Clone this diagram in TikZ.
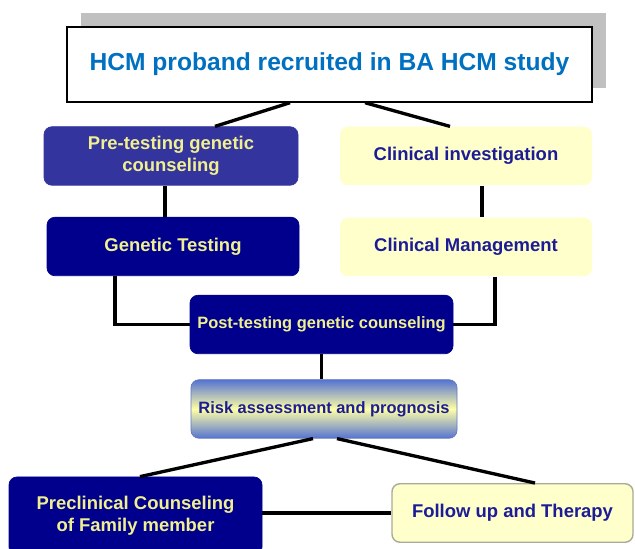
\documentclass[tikz,border=0pt]{standalone}
\usepackage{fontspec}
\setmainfont{Liberation Sans}
\definecolor{titleBlue}{RGB}{0,112,192}
\definecolor{shadowGray}{RGB}{192,192,192}
\definecolor{preBlue}{RGB}{52,52,158}
\definecolor{navyBlue}{RGB}{0,0,140}
\definecolor{paleYellow}{RGB}{255,255,204}
\definecolor{labelYellow}{RGB}{240,240,145}
\definecolor{inkBlue}{RGB}{28,28,150}
\definecolor{riskBlue}{RGB}{85,115,210}
\definecolor{riskYellow}{RGB}{255,255,165}
\definecolor{edgeGray}{RGB}{170,170,150}
\usepackage{tikz}
\usetikzlibrary{shadows}

\begin{document}
\begin{tikzpicture}[
    box/.style={rounded corners=4.5pt, minimum width=5.04cm, minimum height=1.17cm,
      align=center, inner sep=0pt, font=\fontsize{10.5}{12.5}\selectfont\bfseries},
    darkbox/.style={box, fill=navyBlue, draw=navyBlue, text=labelYellow},
    lightbox/.style={box, fill=paleYellow, text=inkBlue},
    smalltext/.style={font=\fontsize{9.35}{11}\selectfont\bfseries},
    link/.style={line width=1.9pt, black}
  ]
  \useasboundingbox (0,0) rectangle (12.7,-10.98);

  % Study entry
  \node[draw=black, line width=0.8pt, fill=white, minimum width=10.5cm, minimum height=1.5cm,
    text=titleBlue, font=\fontsize{14}{16}\selectfont\bfseries,
    drop shadow={shadow xshift=0.27cm, shadow yshift=0.28cm, fill=shadowGray, opacity=1}]
    (title) at (6.59,-1.29) {HCM proband recruited in BA HCM study};

  % Genetic branch (left)
  \node[darkbox, fill=preBlue, draw=preBlue, minimum width=5.08cm] (pretest) at (3.42,-3.12)
    {Pre-testing genetic\\counseling};
  \node[darkbox] (gentest) at (3.46,-4.93) {Genetic Testing};

  % Clinical branch (right)
  \node[lightbox] (clininv) at (9.32,-3.12) {Clinical investigation};
  \node[lightbox] (clinman) at (9.32,-4.94) {Clinical Management};

  % Joined path
  \node[darkbox, smalltext, minimum width=5.26cm] (posttest) at (6.43,-6.49)
    {Post-testing genetic counseling};
  \node[box, smalltext, minimum width=5.32cm, text=inkBlue, draw=riskBlue!70!gray,
    top color=riskBlue, bottom color=riskBlue, middle color=riskYellow] (risk) at (6.48,-8.18)
    {Risk assessment and prognosis};

  % Outcomes
  \node[darkbox, minimum width=5.06cm, minimum height=1.56cm] (precl) at (2.71,-10.32)
    {Preclinical Counseling\\of Family member};
  \node[lightbox, draw=edgeGray, line width=0.8pt, minimum width=4.82cm] (follow) at (10.25,-10.26)
    {Follow up and Therapy};

  % Connectors
  \draw[link] ([xshift=-0.79cm]title.south) -- ([xshift=0.88cm]pretest.north);
  \draw[link] ([xshift=0.71cm]title.south) -- ([xshift=-0.32cm]clininv.north);
  \draw[link] ([xshift=-0.12cm]pretest.south) -- ([xshift=-0.16cm]gentest.north);
  \draw[link] ([xshift=0.32cm]clininv.south) -- ([xshift=0.32cm]clinman.north);
  \draw[link] ([xshift=-1.16cm]gentest.south) |- (posttest.west);
  \draw[link] ([xshift=0.58cm]clinman.south) |- (posttest.east);
  \draw[link] (posttest.south) -- (posttest.south |- risk.north);
  \draw[link] ([xshift=-0.22cm]risk.south) -- ([xshift=0.09cm]precl.north);
  \draw[link] ([xshift=0.26cm]risk.south) -- ([xshift=0.45cm]follow.north);
  \draw[link] (precl.east |- follow.west) -- (follow.west);
\end{tikzpicture}
\end{document}
